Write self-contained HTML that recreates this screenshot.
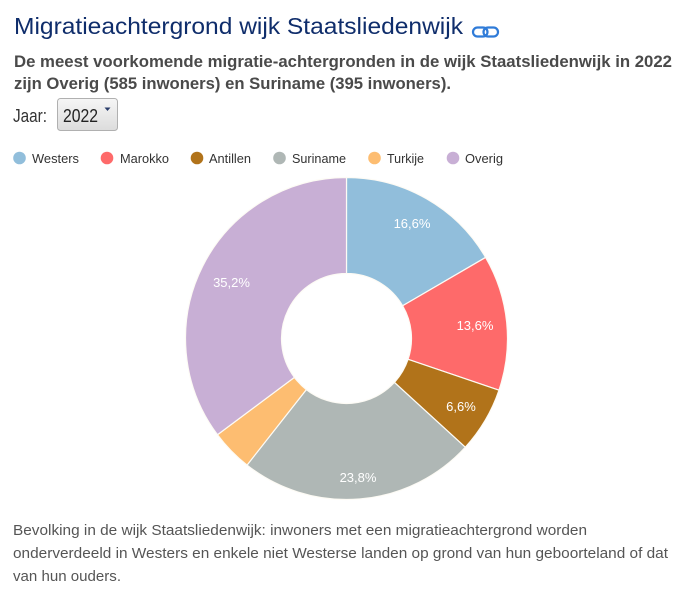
<!DOCTYPE html>
<html>
<head>
<meta charset="utf-8">
<style>
  html, body { margin:0; padding:0; background:#fff; }
  svg { display:block; }
  text { font-family: "Liberation Sans", Arial, sans-serif; }
</style>
</head>
<body>
<svg width="693" height="594" viewBox="0 0 693 594" xmlns="http://www.w3.org/2000/svg">
  <defs>
    <linearGradient id="selg" x1="0" y1="0" x2="0" y2="1">
      <stop offset="0" stop-color="#f6f6f6"/>
      <stop offset="1" stop-color="#dcdcdc"/>
    </linearGradient>
  </defs>

  <!-- Title -->
  <text x="14" y="34" font-size="23" fill="#0f2d6b" textLength="449" lengthAdjust="spacingAndGlyphs">Migratieachtergrond wijk Staatsliedenwijk</text>
  <!-- link icon -->
  <g fill="none" stroke="#2f7bd8" stroke-width="2.2">
    <rect x="473" y="27.5" width="14.5" height="9" rx="4.5"/>
    <rect x="483.5" y="27.5" width="14.5" height="9" rx="4.5"/>
  </g>

  <!-- Subtitle -->
  <text x="14" y="67" font-size="17" font-weight="bold" fill="#4a4a4a" textLength="658" lengthAdjust="spacingAndGlyphs">De meest voorkomende migratie-achtergronden in de wijk Staatsliedenwijk in 2022</text>
  <text x="14" y="89" font-size="17" font-weight="bold" fill="#4a4a4a" textLength="437" lengthAdjust="spacingAndGlyphs">zijn Overig (585 inwoners) en Suriname (395 inwoners).</text>

  <!-- Jaar select -->
  <text x="13" y="122" font-size="18" fill="#333" textLength="34" lengthAdjust="spacingAndGlyphs">Jaar:</text>
  <rect x="57.5" y="98.5" width="60" height="32" rx="3" fill="url(#selg)" stroke="#b0b0b0"/>
  <text x="63" y="122" font-size="18" fill="#222" textLength="35" lengthAdjust="spacingAndGlyphs">2022</text>
  <polygon points="104.5,107.5 110.5,107.5 107.5,111" fill="#2b3e6b"/>

  <!-- Legend -->
  <g font-size="13" fill="#333">
    <circle cx="19.5" cy="158" r="6.3" fill="#91bedb"/>
    <text x="32" y="163" textLength="47" lengthAdjust="spacingAndGlyphs">Westers</text>
    <circle cx="107" cy="158" r="6.3" fill="#fe6a6a"/>
    <text x="120" y="163" textLength="49" lengthAdjust="spacingAndGlyphs">Marokko</text>
    <circle cx="197" cy="158" r="6.3" fill="#b1731a"/>
    <text x="209" y="163" textLength="42" lengthAdjust="spacingAndGlyphs">Antillen</text>
    <circle cx="279.5" cy="158" r="6.3" fill="#afb7b5"/>
    <text x="292" y="163" textLength="54" lengthAdjust="spacingAndGlyphs">Suriname</text>
    <circle cx="374.5" cy="158" r="6.3" fill="#fdbd71"/>
    <text x="387" y="163" textLength="37" lengthAdjust="spacingAndGlyphs">Turkije</text>
    <circle cx="453" cy="158" r="6.3" fill="#c8afd5"/>
    <text x="465" y="163" textLength="38" lengthAdjust="spacingAndGlyphs">Overig</text>
  </g>

  <!-- Donut -->
  <g stroke="#fdfbf5" stroke-width="1.2" stroke-linejoin="round">
    <path d="M346.5,177.5 A161,161 0 0 1 485.59,257.42 L402.65,305.77 A65,65 0 0 0 346.5,273.5 Z" fill="#91bedb"/>
    <path d="M485.59,257.42 A161,161 0 0 1 498.98,390.18 L408.06,359.36 A65,65 0 0 0 402.65,305.77 Z" fill="#fe6a6a"/>
    <path d="M498.98,390.18 A161,161 0 0 1 465.24,447.22 L394.44,382.39 A65,65 0 0 0 408.06,359.36 Z" fill="#b1731a"/>
    <path d="M465.24,447.22 A161,161 0 0 1 247.02,465.09 L306.34,389.61 A65,65 0 0 0 394.44,382.39 Z" fill="#afb7b5"/>
    <path d="M247.02,465.09 A161,161 0 0 1 217.46,434.76 L294.40,377.36 A65,65 0 0 0 306.34,389.61 Z" fill="#fdbd71"/>
    <path d="M217.46,434.76 A161,161 0 0 1 346.5,177.5 L346.5,273.5 A65,65 0 0 0 294.40,377.36 Z" fill="#c8afd5"/>
  </g>

  <!-- Slice labels -->
  <g font-size="13" fill="#ffffff" text-anchor="middle">
    <text x="412" y="228">16,6%</text>
    <text x="475" y="330">13,6%</text>
    <text x="461" y="411">6,6%</text>
    <text x="358" y="482">23,8%</text>
    <text x="231.5" y="287">35,2%</text>
  </g>

  <!-- Footer -->
  <g font-size="15" fill="#555">
    <text x="13" y="535" textLength="574" lengthAdjust="spacingAndGlyphs">Bevolking in de wijk Staatsliedenwijk: inwoners met een migratieachtergrond worden</text>
    <text x="13" y="558" textLength="655" lengthAdjust="spacingAndGlyphs">onderverdeeld in Westers en enkele niet Westerse landen op grond van hun geboorteland of dat</text>
    <text x="13" y="581" textLength="108" lengthAdjust="spacingAndGlyphs">van hun ouders.</text>
  </g>
</svg>
</body>
</html>
